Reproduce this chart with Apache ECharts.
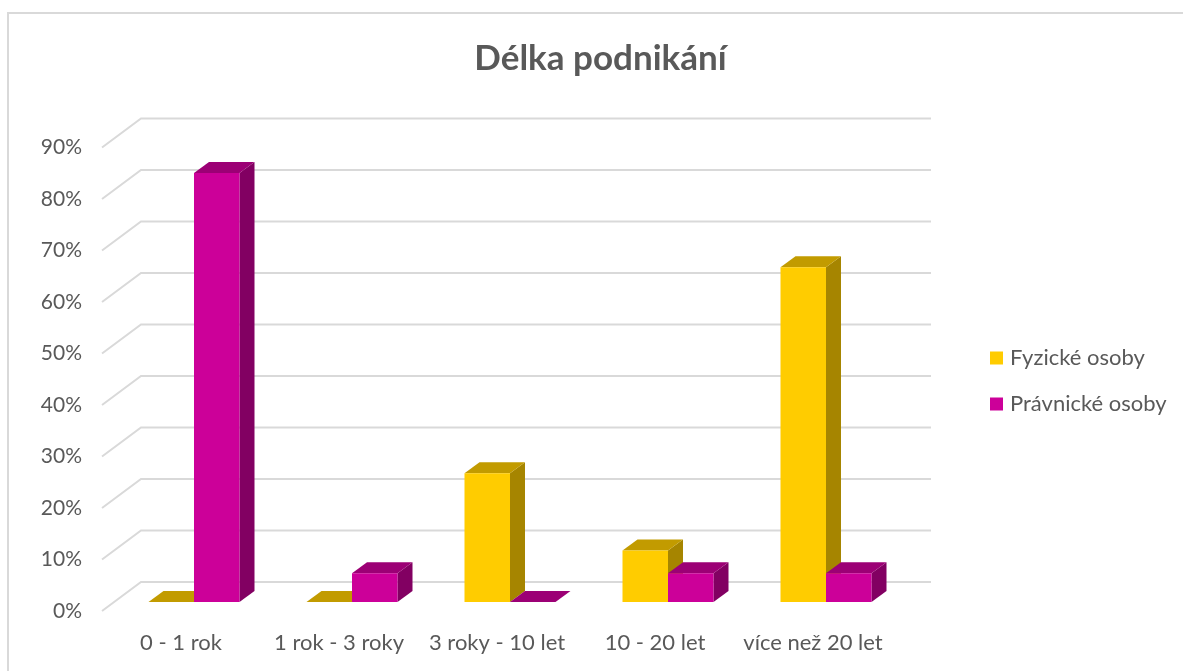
<!DOCTYPE html>
<html>
<head>
<meta charset="utf-8">
<title>Délka podnikání</title>
<script src="https://cdn.jsdelivr.net/npm/echarts@6/dist/echarts.min.js"></script>
<style>
  html, body { margin: 0; padding: 0; background: #fff; }
  #chart { width: 1183px; height: 671px; }
</style>
</head>
<body>
<div id="chart"></div>
<script>
const categories = ["0 - 1 rok", "1 rok - 3 roky", "3 roky - 10 let", "10 - 20 let", "více než 20 let"];
const fyzicke = [0, 0, 25, 10, 65];
const pravnicke = [83.3, 5.6, 0, 5.6, 5.6];
const gridTicks = [0, 10, 20, 30, 40, 50, 60, 70, 80, 90];

const chart = echarts.init(document.getElementById("chart"));

// hloubka sten a sloupcu v pixelech
const wallDepth = [39, -29];
const barOffset = [13, -9];
const barDepth = [15, -11];
const barRatio = 45.5 / 158;

// jeden sloupec = predni stena, vrsek a bok
const renderBar = (slot, colors) => (params, api) => {
  const base = api.coord([api.value(0), 0]);
  const top = api.coord([api.value(0), api.value(1)]);
  const w = api.size([1, 0])[0] * barRatio;
  const x0 = base[0] + barOffset[0] + slot * w;
  const x1 = x0 + w;
  const y0 = base[1] + barOffset[1];
  const y1 = top[1] + barOffset[1];
  const [dx, dy] = barDepth;
  return {
    type: "group",
    children: [
      {
        type: "polygon",
        shape: { points: [[x1, y0], [x1 + dx, y0 + dy], [x1 + dx, y1 + dy], [x1, y1]] },
        style: { fill: colors.side },
      },
      {
        type: "polygon",
        shape: { points: [[x0, y1], [x0 + dx, y1 + dy], [x1 + dx, y1 + dy], [x1, y1]] },
        style: { fill: colors.top },
      },
      {
        type: "rect",
        shape: { x: x0, y: y1, width: w, height: y0 - y1 },
        style: { fill: colors.front },
      },
    ],
  };
};

const renderGridLine = (params, api) => {
  const start = api.coord([0, api.value(0)]);
  const xStart = params.coordSys.x;
  const xEnd = xStart + params.coordSys.width + wallDepth[0];
  const y = start[1];
  return {
    type: "polyline",
    shape: {
      points: [[xStart, y], [xStart + wallDepth[0], y + wallDepth[1]], [xEnd, y + wallDepth[1]]],
    },
    style: { fill: "none", stroke: "#d9d9d9", lineWidth: 2 },
  };
};

const option = {
  animation: false,
  textStyle: { fontFamily: "Lato" },
  title: {
    text: "Délka podnikání",
    left: 595.5,
    top: 36,
    textAlign: "center",
    textStyle: { color: "#595959", fontSize: 35, fontWeight: "bold", fontFamily: "Lato" },
  },
  graphic: [
    {
      type: "polyline",
      shape: { points: [[8, 671], [8, 13], [1183, 13]] },
      style: { fill: "none", stroke: "#d9d9d9", lineWidth: 2 },
    },
  ],
  legend: {
    orient: "vertical",
    left: 985,
    top: 342,
    itemWidth: 13,
    itemHeight: 13,
    itemGap: 24,
    icon: "rect",
    data: ["Fyzické osoby", "Právnické osoby"],
    textStyle: { color: "#595959", fontSize: 22, fontFamily: "Lato", padding: [0, 0, 0, 2] },
  },
  grid: { left: 102, top: 147.5, width: 790, height: 463.5 },
  xAxis: {
    type: "category",
    data: categories,
    axisLine: { show: false },
    axisTick: { show: false },
    axisLabel: { color: "#595959", fontSize: 22, margin: 21, interval: 0 },
  },
  yAxis: {
    type: "value",
    min: 0,
    max: 90,
    interval: 10,
    splitLine: { show: false },
    axisLine: { show: false },
    axisTick: { show: false },
    axisLabel: { color: "#595959", fontSize: 21, margin: 20, formatter: "{value}%" },
  },
  series: [
    {
      type: "custom",
      name: "mrizka",
      silent: true,
      renderItem: renderGridLine,
      encode: { y: 0 },
      data: gridTicks.map((v) => [v]),
      z: 1,
    },
    {
      type: "custom",
      name: "Fyzické osoby",
      renderItem: renderBar(-1, { front: "#ffcc00", top: "#c29b00", side: "#a68500" }),
      itemStyle: { color: "#ffcc00" },
      encode: { x: 0, y: 1 },
      data: fyzicke.map((v, i) => [i, v]),
      z: 2,
    },
    {
      type: "custom",
      name: "Právnické osoby",
      renderItem: renderBar(0, { front: "#cc0099", top: "#9c0075", side: "#820062" }),
      itemStyle: { color: "#cc0099" },
      encode: { x: 0, y: 1 },
      data: pravnicke.map((v, i) => [i, v]),
      z: 3,
    },
  ],
};
chart.setOption(option);
window.addEventListener("resize", () => chart.resize());
</script>
</body>
</html>
